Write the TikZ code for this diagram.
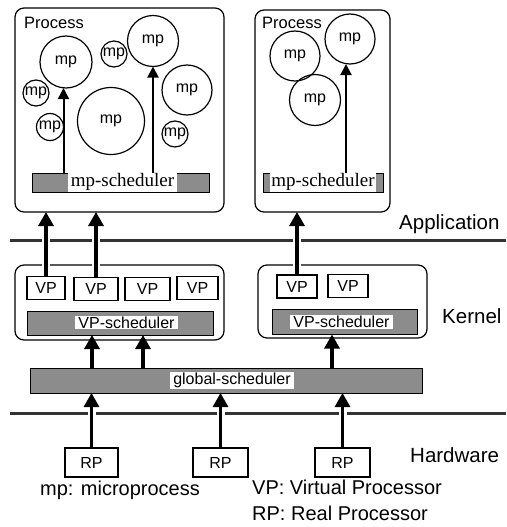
\documentclass[tikz,border=0pt]{standalone}
\usepackage{fontspec}
\setmainfont{Liberation Sans}
\newfontfamily\schedfont{Liberation Serif}
\usetikzlibrary{arrows.meta}

\tikzset{
  procbox/.style={draw, line width=1.2pt, rounded corners=9pt, inner sep=0pt, outer sep=0pt},
  mpc/.style={draw, circle, line width=1.2pt, inner sep=0pt, outer sep=0pt, font=\fontsize{16pt}{16pt}\selectfont},
  bar/.style={draw, line width=1pt, inner sep=0pt, outer sep=0pt, minimum height=19pt, fill=black!45},
  barlabel/.style={fill=white, inner xsep=3pt, inner ysep=1pt},
  unitbox/.style={draw, line width=1.2pt, inner sep=0pt, outer sep=0pt, font=\fontsize{16pt}{16pt}\selectfont},
  thick arrow/.style={line width=3.2pt, -{Triangle[width=15pt,length=14pt]},
    preaction={draw=white, line width=8pt, -, shorten >=16pt, shorten <=2pt}},
  thin arrow/.style={line width=2pt, -{Triangle[width=11pt,length=11pt]}},
  layer line/.style={line width=3pt, black!80},
  layer label/.style={font=\fontsize{20.5pt}{20.5pt}\selectfont, anchor=base west, inner sep=0pt},
  legend/.style={font=\fontsize{20pt}{20pt}\selectfont, anchor=base west, inner sep=0pt},
}

\begin{document}
\begin{tikzpicture}[x=1pt, y=-1pt]
\useasboundingbox (0,0) rectangle (506,527);

% ---------- layer separators ----------
\coordinate (s1l) at (10,240);
\coordinate (s1r) at (506,240);
\coordinate (s2l) at (10,413);
\coordinate (s2r) at (506,413);
\draw[layer line] (s1l) -- (s1r);
\draw[layer line] (s2l) -- (s2r);

\node[layer label] (lapp) at (399,229) {Application};
\node[layer label] (lker) at (442,323) {Kernel};
\node[layer label] (lhw) at (410,462) {Hardware};

% ---------- application layer: two processes ----------
\node[procbox, minimum width=209pt, minimum height=204pt] (p1) at (119.5,110) {};
\node[procbox, minimum width=135pt, minimum height=202pt] (p2) at (322.5,111) {};
\node[anchor=base west, inner sep=0pt, font=\fontsize{16.5pt}{16.5pt}\selectfont] (p1t) at (24,29) {Process};
\node[anchor=base west, inner sep=0pt, font=\fontsize{16.5pt}{16.5pt}\selectfont] (p2t) at (262,29) {Process};

% microprocesses of the first process
\node[mpc, minimum size=52pt] (m1) at (66,62) {mp};
\node[mpc, minimum size=26pt] (m2) at (36,93) {mp};
\node[mpc, minimum size=27pt] (m3) at (50,127) {mp};
\node[mpc, minimum size=67pt] (m4) at (111,121) {mp};
\node[mpc, minimum size=26pt] (m5) at (114,54) {mp};
\node[mpc, minimum size=51pt] (m6) at (153,41) {mp};
\node[mpc, minimum size=50pt] (m7) at (187,90) {mp};
\node[mpc, minimum size=26pt] (m8) at (175,134) {mp};

% microprocesses of the second process
\node[mpc, minimum size=50pt] (r1) at (295,56) {mp};
\node[mpc, minimum size=50pt] (r2) at (350,39) {mp};
\node[mpc, minimum size=51pt] (r3) at (315,100) {mp};

% mp-schedulers
\node[bar, minimum width=177pt] (ms1) at (120.5,182.5) {};
\node[barlabel, font=\schedfont\fontsize{19pt}{19pt}\selectfont] (ms1t) at (122.5,182) {mp-scheduler};
\node[bar, minimum width=120pt] (ms2) at (323,182.5) {};
\node[barlabel, font=\schedfont\fontsize{19pt}{19pt}\selectfont, inner xsep=1pt] (ms2t) at (323,182) {mp-scheduler};

\coordinate (a3) at (346,0);
\draw[thin arrow] (ms1.north -| m3.east) -- (m1.south -| m3.east);
\draw[thin arrow] (ms1.north -| m6.south) -- (m6.south);
\draw[thin arrow] (ms2.north -| a3) -- (r2.south -| a3);

% ---------- kernel layer ----------
\node[procbox, minimum width=209pt, minimum height=75pt] (k1) at (119.5,302.5) {};
\node[procbox, minimum width=169pt, minimum height=73pt] (k2) at (342.5,301.5) {};

\node[unitbox, minimum width=38pt, minimum height=23pt] (vp1) at (46,288) {VP};
\node[unitbox, minimum width=44pt, minimum height=23pt] (vp2) at (96,289) {VP};
\node[unitbox, minimum width=45pt, minimum height=23pt] (vp3) at (147.5,289) {VP};
\node[unitbox, minimum width=41pt, minimum height=23pt] (vp4) at (197.5,288) {VP};
\node[unitbox, minimum width=40pt, minimum height=23pt] (vp5) at (297,286.5) {VP};
\node[unitbox, minimum width=40pt, minimum height=23pt] (vp6) at (348,286) {VP};

\node[bar, minimum width=186pt, minimum height=24pt] (vs1) at (120,323) {};
\node[barlabel, font=\fontsize{16pt}{16pt}\selectfont] (vs1t) at (126.5,322.5) {VP-scheduler};
\node[bar, minimum width=145pt, minimum height=25pt] (vs2) at (344.5,322) {};
\node[barlabel, font=\fontsize{16pt}{16pt}\selectfont] (vs2t) at (341.5,322) {VP-scheduler};

\draw[thick arrow] (vp1.north) -- (p1.south -| vp1.north);
\draw[thick arrow] (vp2.north) -- (p1.south -| vp2.north);
\draw[thick arrow] (vp5.north) -- (p2.south -| vp5.north);

% ---------- global scheduler ----------
\node[bar, minimum width=392pt, minimum height=25pt] (gs) at (226,380.5) {};
\node[barlabel, font=\fontsize{16pt}{16pt}\selectfont] (gst) at (232,380.5) {global-scheduler};

\coordinate (g1) at (92,0);
\coordinate (g2) at (143,0);
\coordinate (g3) at (332,0);
\draw[thick arrow] (gs.north -| g1) -- (vs1.south -| g1);
\draw[thick arrow] (gs.north -| g2) -- (vs1.south -| g2);
\draw[thick arrow] (gs.north -| g3) -- (vs2.south -| g3);

% ---------- hardware layer ----------
\node[unitbox, minimum width=53pt, minimum height=29pt] (rp1) at (91.5,462.5) {RP};
\node[unitbox, minimum width=55pt, minimum height=29pt] (rp2) at (220.5,462.5) {RP};
\node[unitbox, minimum width=55pt, minimum height=29pt] (rp3) at (342.5,462.5) {RP};

\draw[thick arrow] (rp1.north) -- (gs.south -| rp1.north);
\draw[thick arrow] (rp2.north) -- (gs.south -| rp2.north);
\draw[thick arrow] (rp3.north) -- (gs.south -| rp3.north);

% ---------- legend ----------
\node[legend] (leg1) at (40,495) {mp: microprocess};
\node[legend] (leg2) at (252,494) {VP: Virtual Processor};
\node[legend] (leg3) at (252,520) {RP: Real Processor};
\end{tikzpicture}
\end{document}
